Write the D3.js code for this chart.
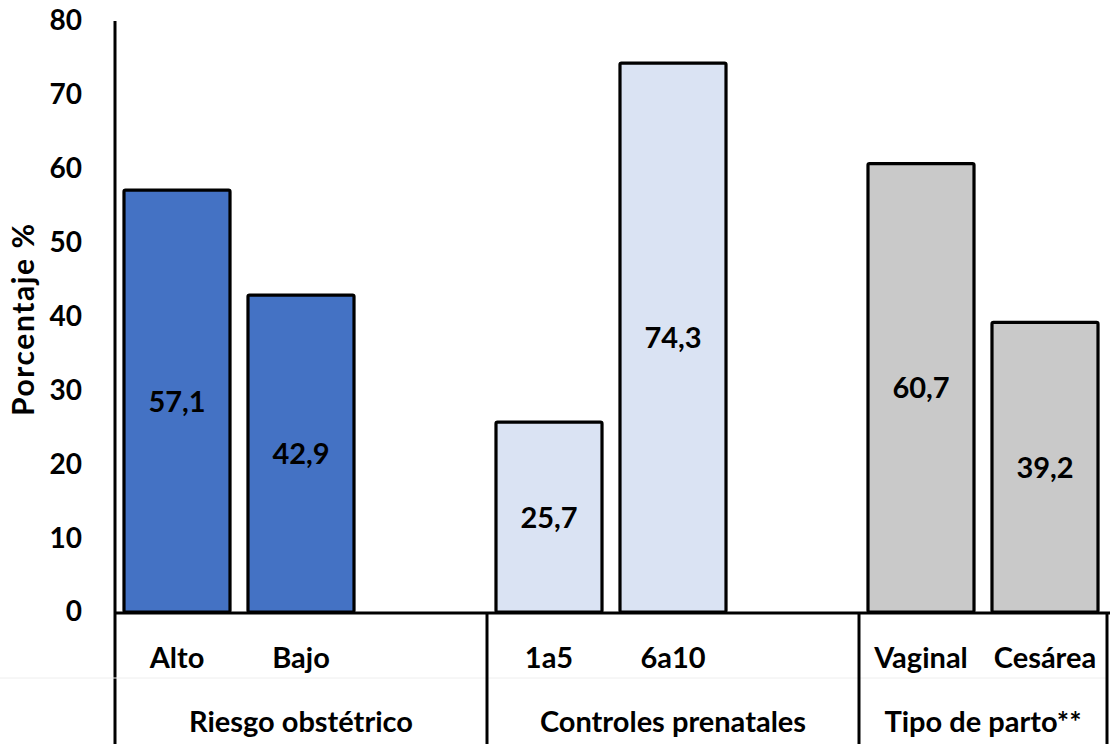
<!DOCTYPE html>
<html>
<head>
<meta charset="utf-8">
<script src="https://cdn.jsdelivr.net/npm/d3@7"></script>
<style>
  html, body { margin: 0; padding: 0; background: #fff; }
  svg { display: block; }
  text { font-family: Lato, "Open Sans", sans-serif; font-weight: 700; fill: #000; }
</style>
</head>
<body>
<svg id="chart" width="1113" height="744"></svg>
<script>
// Category slots (empty slots keep the gap at the end of each group)
const categories = ["Alto", "Bajo", "", "1a5", "6a10", "", "Vaginal", "Cesárea"];
const values     = [57.1, 42.9, null, 25.7, 74.3, null, 60.7, 39.2];
const slotGroup  = [0, 0, 0, 1, 1, 1, 2, 2];
const groups     = ["Riesgo obstétrico", "Controles prenatales", "Tipo de parto**"];
const groupColors = ["#4472C4", "#DAE3F3", "#C9C9C9"];
const yTicks     = [0, 10, 20, 30, 40, 50, 60, 70, 80];
const yTitle     = "Porcentaje %";

const svg = d3.select("#chart");
const plotLeft = 115, plotRight = 1107, plotTop = 21, plotBottom = 612;

const x = d3.scaleBand()
  .domain(d3.range(categories.length))
  .range([plotLeft, plotRight])
  .paddingInner(0.145)
  .paddingOuter(0.0725);

const y = d3.scaleLinear().domain([0, 80]).range([plotBottom, plotTop]);

// Y axis: labels only, plus the axis line
const yAxis = d3.axisLeft(y).tickValues(yTicks).tickSize(0).tickPadding(33);
const gy = svg.append("g").attr("transform", `translate(${plotLeft},0)`).call(yAxis);
gy.select(".domain").remove();
gy.selectAll("text")
  .style("font-family", "Lato, sans-serif")
  .style("font-weight", 700)
  .style("font-size", "28px")
  .attr("fill", "#000");

svg.append("text")
  .attr("transform", `translate(34, 320) rotate(-90)`)
  .attr("text-anchor", "middle")
  .attr("textLength", 192)
  .attr("lengthAdjust", "spacing")
  .style("font-size", "30px")
  .text(yTitle);

// Bars
const data = categories.map((c, i) => ({ c, v: values[i], g: slotGroup[i], i }))
  .filter(d => d.v != null);

svg.append("g").selectAll("rect")
  .data(data)
  .join("rect")
  .attr("x", d => x(d.i))
  .attr("y", d => y(d.v))
  .attr("width", x.bandwidth())
  .attr("height", d => y(0) - y(d.v))
  .attr("rx", 1.5)
  .attr("fill", d => groupColors[d.g])
  .attr("stroke", "#000")
  .attr("stroke-width", 3.2);

// Value labels centred in each bar
svg.append("g").selectAll("text")
  .data(data)
  .join("text")
  .attr("x", d => x(d.i) + x.bandwidth() / 2)
  .attr("y", d => (y(d.v) + y(0)) / 2)
  .attr("dy", "0.36em")
  .attr("text-anchor", "middle")
  .style("font-size", "29px")
  .text(d => d3.format(".1f")(d.v).replace(".", ","));

// Axis lines
svg.append("line")
  .attr("x1", plotLeft).attr("x2", plotLeft).attr("y1", plotTop).attr("y2", 744)
  .attr("stroke", "#000").attr("stroke-width", 3);
svg.append("line")
  .attr("x1", plotLeft).attr("x2", plotRight + 3).attr("y1", plotBottom + 1).attr("y2", plotBottom + 1)
  .attr("stroke", "#000").attr("stroke-width", 3);

// Faint divider between category rows
svg.append("line")
  .attr("x1", 0).attr("x2", plotRight).attr("y1", 678).attr("y2", 678)
  .attr("stroke", "#eeeeee").attr("stroke-width", 1);

// Group boundaries and labels
let start = 0;
const groupSpans = groups.map((g, gi) => {
  const n = slotGroup.filter(s => s === gi).length;
  const span = { g, a: start, b: start + n };
  start += n;
  return span;
});
const slotEdge = k => plotLeft + k * (plotRight - plotLeft) / categories.length;

groupSpans.forEach(s => {
  svg.append("line")
    .attr("x1", slotEdge(s.b)).attr("x2", slotEdge(s.b))
    .attr("y1", plotBottom).attr("y2", 744)
    .attr("stroke", "#000").attr("stroke-width", 3);
  svg.append("text")
    .attr("x", (slotEdge(s.a) + slotEdge(s.b)) / 2)
    .attr("y", 722)
    .attr("dy", "0.36em")
    .attr("text-anchor", "middle")
    .style("font-size", "29px")
    .text(s.g);
});

// Category labels
svg.append("g").selectAll("text")
  .data(categories.map((c, i) => ({ c, i })).filter(d => d.c))
  .join("text")
  .attr("x", d => x(d.i) + x.bandwidth() / 2)
  .attr("y", 658)
  .attr("dy", "0.36em")
  .attr("text-anchor", "middle")
  .style("font-size", "29px")
  .text(d => d.c);
</script>
</body>
</html>
